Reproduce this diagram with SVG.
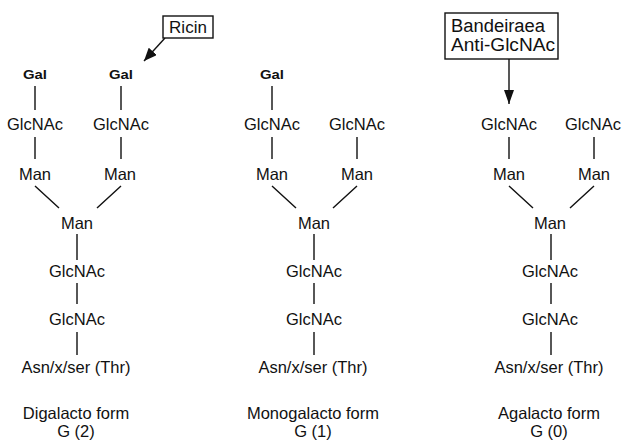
<svg xmlns="http://www.w3.org/2000/svg" width="622" height="443" viewBox="0 0 622 443">
  <defs>
    <style>
      text { font-family: "Liberation Sans", Arial, sans-serif; font-size: 16.5px; fill: #111; text-anchor: middle; }
      .gal { font-size: 12.5px; font-weight: bold; }
      .lbl { text-anchor: start; font-size: 18px; }
      .bond { stroke: #111; stroke-width: 1.4; fill: none; }
      .box { stroke: #111; stroke-width: 1.4; fill: #fff; }
    </style>
    <marker id="arrow" viewBox="0 0 13 11" refX="13" refY="5.5" markerWidth="13" markerHeight="11" markerUnits="userSpaceOnUse" orient="auto">
      <path d="M0,0 L13,5.5 L0,11 Z" fill="#111"/>
    </marker>
    <marker id="arrowL" viewBox="0 0 14 10" refX="14" refY="5" markerWidth="14" markerHeight="10" markerUnits="userSpaceOnUse" orient="auto">
      <path d="M0,0 L14,5 L0,10 Z" fill="#111"/>
    </marker>
  </defs>

  <!-- bonds between residues -->
  <g id="connectors">
    <!-- digalacto form -->
    <path class="bond" d="M35,86 V110 M121,86 V110 M35,137 V159 M121,137 V159 M35,186 L59,208 M121,186 L97,208 M77,234 V260 M77,283 V304 M77,332 V355"/>
    <!-- monogalacto form -->
    <path class="bond" d="M272,86 V110 M272,137 V159 M357,137 V159 M272,186 L296,208 M357,186 L333,208 M314,234 V260 M314,283 V304 M314,332 V355"/>
    <!-- agalacto form -->
    <path class="bond" d="M509,137 V159 M594,137 V159 M509,186 L533,208 M594,186 L570,208 M551,234 V260 M551,283 V304 M551,332 V355"/>
    <!-- lectin pointers -->
    <line class="bond" x1="165" y1="38" x2="144" y2="61" marker-end="url(#arrow)"/>
    <line class="bond" x1="509" y1="59" x2="509" y2="104" marker-end="url(#arrowL)"/>
  </g>

  <!-- Digalacto form G(2) -->
  <g id="g2">
    <text class="gal" x="35" y="79" textLength="24" lengthAdjust="spacingAndGlyphs">Gal</text>
    <text class="gal" x="121" y="79" textLength="24" lengthAdjust="spacingAndGlyphs">Gal</text>
    <text x="35" y="130">GlcNAc</text>
    <text x="121" y="130">GlcNAc</text>
    <text x="35" y="180">Man</text>
    <text x="120" y="180">Man</text>
    <text x="77" y="229">Man</text>
    <text x="77" y="277">GlcNAc</text>
    <text x="77" y="325">GlcNAc</text>
    <text x="76" y="373">Asn/x/ser (Thr)</text>
    <text x="76" y="419">Digalacto form</text>
    <text x="76" y="437">G (2)</text>
  </g>

  <!-- Monogalacto form G(1) -->
  <g id="g1">
    <text class="gal" x="272" y="79" textLength="24" lengthAdjust="spacingAndGlyphs">Gal</text>
    <text x="272" y="130">GlcNAc</text>
    <text x="357" y="130">GlcNAc</text>
    <text x="272" y="180">Man</text>
    <text x="357" y="180">Man</text>
    <text x="314" y="229">Man</text>
    <text x="314" y="277">GlcNAc</text>
    <text x="314" y="325">GlcNAc</text>
    <text x="313" y="373">Asn/x/ser (Thr)</text>
    <text x="313" y="419">Monogalacto form</text>
    <text x="313" y="437">G (1)</text>
  </g>

  <!-- Agalacto form G(0) -->
  <g id="g0">
    <text x="509" y="130">GlcNAc</text>
    <text x="593" y="130">GlcNAc</text>
    <text x="509" y="180">Man</text>
    <text x="594" y="180">Man</text>
    <text x="550" y="229">Man</text>
    <text x="550" y="277">GlcNAc</text>
    <text x="550" y="325">GlcNAc</text>
    <text x="549" y="373">Asn/x/ser (Thr)</text>
    <text x="549" y="419">Agalacto form</text>
    <text x="549" y="437">G (0)</text>
  </g>

  <!-- lectin labels -->
  <g id="ricin">
    <rect class="box" x="163" y="16" width="50" height="22"/>
    <text x="188" y="33" style="font-size:17px">Ricin</text>
  </g>
  <g id="bandeiraea">
    <rect class="box" x="445" y="13" width="113" height="46"/>
    <text class="lbl" x="451" y="32" textLength="94" lengthAdjust="spacingAndGlyphs">Bandeiraea</text>
    <text class="lbl" x="451" y="51" textLength="104" lengthAdjust="spacingAndGlyphs">Anti-GlcNAc</text>
  </g>
</svg>
